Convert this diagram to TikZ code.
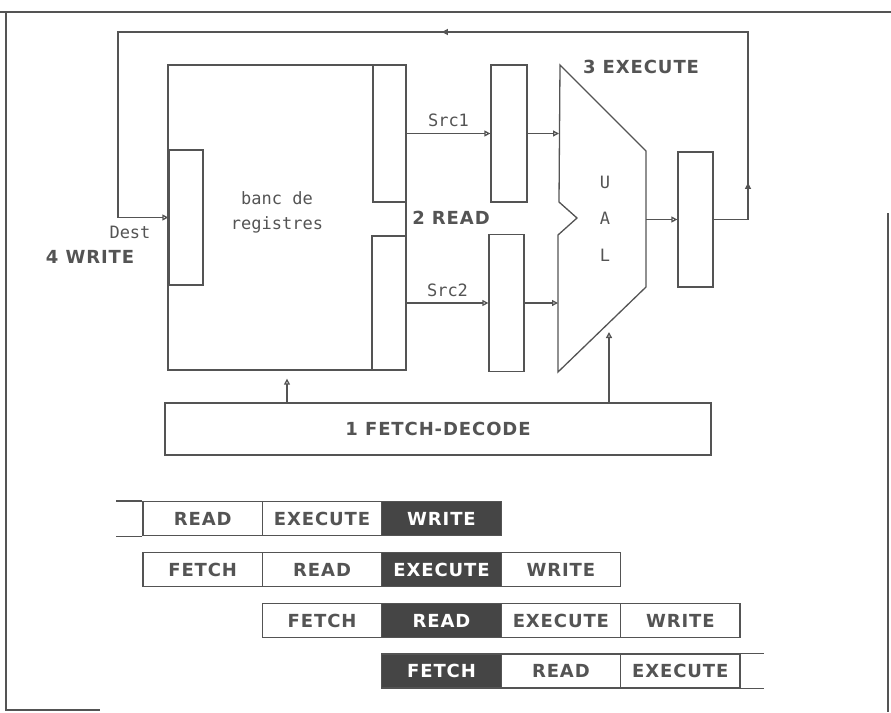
\documentclass[tikz,border=0pt]{standalone}
\usepackage{fontspec}
\setmainfont{DejaVu Sans Mono}
\newfontfamily\pipefont[LetterSpace=5]{DejaVu Sans}
\usetikzlibrary{arrows.meta,decorations.markings}
\definecolor{linegray}{gray}{0.33}
\definecolor{labelgray}{gray}{0.33}
\definecolor{darkcell}{gray}{0.27}

\begin{document}
\begin{tikzpicture}[x=1pt, y=-1pt,
    box/.style={draw=linegray, line width=1.3pt, inner sep=0pt},
    reg/.style={box, minimum width=35, minimum height=136},
    stage/.style={box, minimum width=119.4, minimum height=34,
      font=\pipefont\bfseries\fontsize{18}{21}\selectfont},
    title/.style={text=labelgray, inner sep=0pt,
      font=\pipefont\bfseries\fontsize{18}{21}\selectfont},
    lbl/.style={text=labelgray, inner sep=0pt, font=\fontsize{17}{25}\selectfont},
    arr/.style={draw=linegray, line width=1.3pt, ->},
    >={Triangle[open, length=6pt, width=6pt]}
  ]
  \useasboundingbox (0,0) rectangle (891,712);

  %-----------------------------
  % scan frame
  %-----------------------------
  \draw[linegray, line width=2pt] (0,12) -- (891,12);
  \draw[linegray, line width=1.5pt] (6,12) -- (6,710) -- (100,710);
  \draw[linegray, line width=1.5pt] (888,213) -- (888,712);

  %-----------------------------
  % register bank
  %-----------------------------
  \node[box, minimum width=238, minimum height=305] (bank) at (287,217.5) {};
  \node[lbl, align=center] (banklbl) at (277,212) {banc de\\registres};
  \node[reg, minimum width=34, minimum height=135] (destreg) at (186,217.5) {};
  \node[reg, minimum width=33, minimum height=137] (port1) at (389.5,133.5) {};
  \node[reg, minimum width=34, minimum height=134] (port2) at (389,303) {};

  % pipeline registers
  \node[reg, minimum width=36, minimum height=137] (src1reg) at (509,133.5) {};
  \node[reg, minimum height=137] (src2reg) at (506.5,303) {};
  \node[reg, minimum height=135] (outreg) at (695.5,219.5) {};

  %-----------------------------
  % UAL
  %-----------------------------
  \draw[box] (560,65) -- (646,151) -- (646,287) -- (558,372) -- (558,235)
    -- (577,218) -- (559,202) -- cycle;
  \coordinate (alu-in1) at (559,133.5);
  \coordinate (alu-in2) at (558,303);
  \coordinate (alu-out) at (646,219.5);
  \coordinate (alu-ctl) at (609,323);
  \node[lbl] (ual-u) at (605,182) {U};
  \node[lbl] (ual-a) at (605,218) {A};
  \node[lbl] (ual-l) at (605,255) {L};

  %-----------------------------
  % fetch-decode
  %-----------------------------
  \node[box, title, minimum width=546, minimum height=52] (fetch) at (438,429)
    {1 FETCH-DECODE};

  % stage labels
  \node[title] (execlbl) at (641,67) {3 EXECUTE};
  \node[title] (readlbl) at (451,218) {2 READ};
  \node[title] (writelbl) at (90,257) {4 WRITE};
  \node[lbl] (destlbl) at (130,232) {Dest};

  %-----------------------------
  % data paths
  %-----------------------------
  \draw[arr] (port1.east) -- node[lbl, above=6pt] (src1lbl) {Src1} (src1reg.west);
  \draw[arr] (port2.east) -- node[lbl, above=6pt] (src2lbl) {Src2} (src2reg.west);
  \draw[arr] (src1reg.east) -- (alu-in1);
  \draw[arr] (src2reg.east) -- (alu-in2);
  \draw[arr] (alu-out) -- (outreg.west);
  \draw[arr, shorten >=8pt] (fetch.north -| bank.south) -- (bank.south);
  \draw[arr, shorten >=9pt] (fetch.north -| alu-ctl) -- (alu-ctl);

  % write back
  \coordinate (fbR) at (748,32);
  \coordinate (fbL) at (118,32);
  \draw[arr, postaction={decorate}, decoration={markings,
      mark=at position 71pt with {\arrow{>}},
      mark=at position 528pt with {\arrow{>}}}]
    (outreg.east) -| (fbR) -- (fbL) |- (destreg.west);

  %-----------------------------
  % pipeline chart
  %-----------------------------
  \foreach \r/\ycen/\first/\labs in {1/518.5/0/{READ,EXECUTE,WRITE},
      2/569.5/0/{FETCH,READ,EXECUTE,WRITE},
      3/620.5/1/{FETCH,READ,EXECUTE,WRITE},
      4/671/2/{FETCH,READ,EXECUTE}} {
    \foreach \l [count=\k from \first] in \labs {
      \ifnum\k=2 \def\cf{darkcell}\def\ct{white}\else\def\cf{white}\def\ct{labelgray}\fi
      \node[stage, fill=\cf, text=\ct] (st-\r-\k) at ({202.7+119.4*\k},\ycen) {\l};
    }
  }
  % open ends
  \draw[linegray, line width=1.3pt] (st-1-0.north west) -- ++(-26,0)
    (st-1-0.south west) -- ++(-26,0);
  \draw[linegray, line width=1.3pt] (st-4-4.north east) -- ++(23,0)
    (st-4-4.south east) -- ++(23,0);

\end{tikzpicture}
\end{document}
